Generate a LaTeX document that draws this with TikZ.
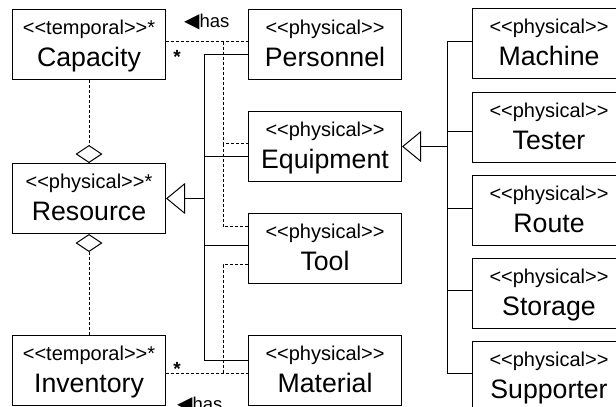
\documentclass[tikz,border=0pt]{standalone}
\usepackage{fontspec}
\usetikzlibrary{arrows.meta}
\newfontfamily\umlfont{Liberation Sans}
\newfontfamily\umlsym{DejaVu Sans}

\tikzset{
  box/.style={draw, line width=1pt, minimum width=153pt, minimum height=70pt,
              anchor=north west, inner sep=0pt},
  stereo/.style={font=\umlfont\fontsize{20}{21}\selectfont, inner sep=0pt, anchor=base},
  title/.style={font=\umlfont\fontsize{26.7}{28}\selectfont, inner sep=0pt, anchor=base},
  assoc/.style={line width=1pt, dash pattern=on 3pt off 2pt},
  gen/.style={line width=1pt},
  mult/.style={font=\umlfont\bfseries\fontsize{19}{20}\selectfont, inner sep=0pt, anchor=base},
  rolename/.style={font=\umlfont\fontsize{18.5}{20}\selectfont, inner sep=0pt, anchor=base west},
}

% a class box with its stereotype and name
\newcommand\umlclass[4]{%
  \node[box] (#1) at (#2) {};
  \node[stereo] (#1-s) at ([yshift=-25pt]#1.north) {#3};
  \node[title]  (#1-t) at ([yshift=-57pt]#1.north) {#4};
}

\begin{document}
\begin{tikzpicture}[x=1pt, y=-1pt]
\clip (0,0) rectangle (616,407);

% left column
\umlclass{cap}{12,9}{<<temporal>>*}{Capacity}
\umlclass{res}{12,163}{<<physical>>*}{Resource}
\umlclass{inv}{12,335}{<<temporal>>*}{Inventory}

% middle column
\umlclass{per}{248,9}{<<physical>>}{Personnel}
\umlclass{eqp}{248,111}{<<physical>>}{Equipment}
\umlclass{tool}{248,213}{<<physical>>}{Tool}
\umlclass{mat}{248,335}{<<physical>>}{Material}

% right column
\umlclass{mach}{472,8}{<<physical>>}{Machine}
\umlclass{test}{472,92}{<<physical>>}{Tester}
\umlclass{route}{472,175}{<<physical>>}{Route}
\umlclass{stor}{472,258}{<<physical>>}{Storage}
\umlclass{supp}{472,341}{<<physical>>}{Supporter}

% aggregation of Capacity and Inventory into Resource
\draw[assoc, -{Diamond[open, length=18pt, width=27pt]}] (cap.south) -- (res.north);
\draw[assoc, -{Diamond[open, length=18pt, width=27pt]}] (inv.north) -- (res.south);

% Capacity -- has -- physical resources
\coordinate (cbus) at (223,0);
\coordinate (capA) at ([yshift=3pt]cap.east);
\coordinate (perA) at ([yshift=3pt]per.west);
\coordinate (eqpA) at ([yshift=3pt]eqp.west);
\coordinate (toolA) at ([yshift=22pt]tool.west);
\draw[assoc] (capA) -- (capA -| perA);
\draw[assoc] (cbus |- capA) |- (eqpA);
\draw[assoc] (cbus |- eqpA) |- (toolA);
\node[rolename] (hasTop) at (184,27) {{\umlsym\fontsize{20}{20}\selectfont ◀}has};
\node[mult] (capStar) at (177,63) {*};

% Inventory -- has -- Material and Tool
\coordinate (invA) at ([yshift=-3pt]inv.east);
\coordinate (matA) at ([yshift=-3pt]mat.west);
\coordinate (toolB) at ([yshift=-16pt]tool.west);
\draw[assoc] (invA) -- (invA -| matA);
\draw[assoc] (toolB) -| (cbus |- matA);
\node[rolename] (hasBot) at (177,410) {{\umlsym\fontsize{20}{20}\selectfont ◀}has};
\node[mult] (invStar) at (177,375) {*};

% generalization into Resource
\coordinate (gbus) at (204,0);
\coordinate (perG) at ([yshift=-10pt]per.west);
\coordinate (eqpG) at ([yshift=-10pt]eqp.west);
\coordinate (toolG) at ([yshift=3pt]tool.west);
\coordinate (matG) at ([yshift=10pt]mat.west);
\draw[gen] (perG) -| (gbus |- matG) -- (matG);
\draw[gen] (eqpG) -- (gbus |- eqpG);
\draw[gen] (toolG) -- (gbus |- toolG);
\draw[gen, -{Triangle[open, length=19pt, width=31pt]}] (gbus |- res.east) -- (res.east);

% generalization into Equipment
\coordinate (rbus) at (447,0);
\coordinate (machG) at ([yshift=2pt]mach.west);
\coordinate (testG) at ([yshift=-4pt]test.west);
\coordinate (routeG) at ([yshift=2pt]route.west);
\coordinate (storG) at ([yshift=3pt]stor.west);
\coordinate (suppG) at ([yshift=3pt]supp.west);
\draw[gen] (machG) -| (rbus |- suppG) -- (suppG);
\draw[gen] (testG) -- (rbus |- testG);
\draw[gen] (routeG) -- (rbus |- routeG);
\draw[gen] (storG) -- (rbus |- storG);
\draw[gen, -{Triangle[open, length=19pt, width=31pt]}] (rbus |- eqp.east) -- (eqp.east);
\end{tikzpicture}
\end{document}
